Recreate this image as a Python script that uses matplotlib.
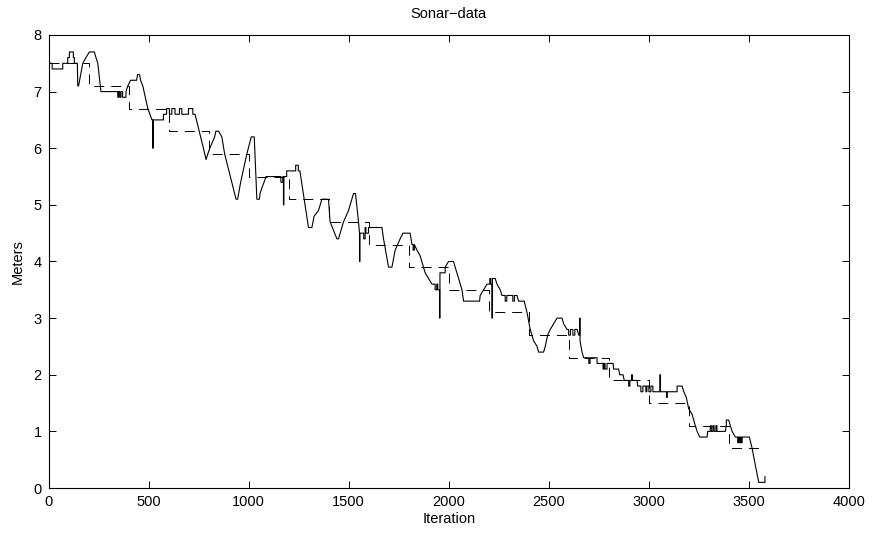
import matplotlib
matplotlib.use("Agg")
import matplotlib.pyplot as plt

# ---- data ----
# solid sonar trace, vertices (iteration, meters), in consecutive pieces
sonar_part1 = [(0, 7.5), (18, 7.5), (18, 7.4), (71, 7.4), (71, 7.5), (96, 7.5), (96, 7.6), (104, 7.6), (104, 7.7),
               (124, 7.7), (124, 7.6), (129, 7.6), (129, 7.5), (144, 7.5), (146, 7.1), (150, 7.1), (171, 7.5),
               (187, 7.6), (204, 7.7), (229, 7.7), (237, 7.6), (246, 7.5), (262, 7.0), (346, 7.0), (346, 6.9),
               (350, 6.9), (350, 7.0), (356, 7.0), (356, 6.9), (362, 6.9), (362, 7.0), (370, 7.0), (370, 6.9),
               (387, 6.9), (387, 7.0), (396, 7.1), (410, 7.2), (440, 7.2), (445, 7.3), (455, 7.3), (460, 7.2),
               (471, 7.1), (496, 6.7), (517, 6.5), (521, 6.5), (521, 6.0), (523, 6.0), (523, 6.5)]
sonar_part2 = [(574, 6.5), (574, 6.6), (590, 6.6), (590, 6.7), (604, 6.7), (604, 6.6), (616, 6.6), (616, 6.7),
               (632, 6.7), (632, 6.6), (654, 6.6), (654, 6.7), (666, 6.7), (666, 6.6), (699, 6.6), (699, 6.7),
               (721, 6.7), (721, 6.6), (732, 6.6), (774, 6.0), (787, 5.8), (796, 5.9), (806, 6.0), (830, 6.2),
               (836, 6.3), (850, 6.3), (866, 6.2), (880, 5.9), (937, 5.1), (945, 5.1), (960, 5.4), (991, 5.9),
               (1013, 6.2), (1028, 6.2), (1041, 5.1), (1054, 5.1), (1057, 5.2), (1066, 5.3), (1077, 5.4),
               (1087, 5.5), (1161, 5.5), (1161, 5.4), (1171, 5.4), (1171, 5.5), (1174, 5.5), (1174, 5.0),
               (1176, 5.0), (1176, 5.5), (1190, 5.5), (1190, 5.6), (1235, 5.6), (1235, 5.7), (1248, 5.7),
               (1248, 5.6), (1256, 5.6)]
sonar_part3 = [(1299, 4.6), (1316, 4.6), (1327, 4.8), (1349, 4.9), (1366, 5.1), (1399, 5.1), (1407, 4.7),
               (1441, 4.4), (1449, 4.4), (1474, 4.7), (1499, 4.9), (1524, 5.2), (1534, 5.2), (1549, 4.7),
               (1554, 4.5), (1554, 4.0), (1556, 4.0), (1556, 4.5), (1575, 4.5), (1575, 4.4), (1582, 4.4),
               (1582, 4.6), (1586, 4.6), (1586, 4.5), (1599, 4.5), (1599, 4.6), (1666, 4.6), (1674, 4.4),
               (1699, 3.9), (1716, 3.9), (1732, 4.2), (1757, 4.4), (1771, 4.5), (1807, 4.5), (1816, 4.3),
               (1822, 4.3), (1822, 4.2), (1828, 4.2), (1828, 4.3), (1841, 4.2), (1857, 4.1), (1874, 3.9),
               (1882, 3.8), (1899, 3.7), (1916, 3.6), (1932, 3.6), (1932, 3.5), (1940, 3.5), (1940, 3.6),
               (1945, 3.6), (1945, 3.5), (1954, 3.5), (1954, 3.0), (1956, 3.0), (1956, 3.8)]
sonar_part4 = [(1982, 3.8), (1982, 3.9), (1999, 4.0), (2024, 4.0), (2032, 3.9), (2049, 3.7), (2066, 3.5),
               (2074, 3.3), (2154, 3.3), (2157, 3.4), (2174, 3.5), (2191, 3.6), (2205, 3.6), (2205, 3.7),
               (2210, 3.7), (2210, 3.6), (2216, 3.6), (2216, 3.0), (2218, 3.0), (2218, 3.7), (2232, 3.7),
               (2241, 3.6), (2257, 3.5), (2266, 3.4), (2282, 3.4), (2282, 3.3), (2290, 3.3), (2290, 3.4),
               (2320, 3.4), (2320, 3.3), (2328, 3.3), (2328, 3.4), (2341, 3.4), (2349, 3.3), (2377, 3.3),
               (2391, 3.1), (2407, 2.8), (2424, 2.6), (2441, 2.5), (2449, 2.4), (2474, 2.4), (2482, 2.5),
               (2494, 2.7), (2507, 2.8), (2524, 2.9), (2541, 3.0), (2566, 3.0), (2574, 2.9), (2591, 2.8),
               (2599, 2.8), (2599, 2.7), (2608, 2.7), (2608, 2.8), (2620, 2.8), (2620, 2.7), (2630, 2.7),
               (2630, 2.8), (2641, 2.8), (2650, 2.7), (2654, 2.7), (2654, 3.0), (2656, 3.0), (2656, 2.6),
               (2666, 2.4), (2674, 2.3)]
sonar_part5 = [(2700, 2.3), (2700, 2.2), (2706, 2.2), (2706, 2.3), (2741, 2.3), (2741, 2.2), (2771, 2.2),
               (2771, 2.1), (2776, 2.1), (2776, 2.2), (2781, 2.2), (2781, 2.1), (2791, 2.1), (2791, 2.2),
               (2821, 2.2), (2824, 2.1), (2849, 2.1), (2854, 2.0), (2871, 2.0), (2877, 1.9), (2899, 1.9),
               (2899, 1.8), (2905, 1.8), (2905, 1.9), (2914, 1.9), (2914, 2.0), (2917, 2.0), (2917, 1.9),
               (2941, 1.9), (2944, 1.8), (2960, 1.8), (2960, 1.7), (2970, 1.7), (2970, 1.8), (2985, 1.8),
               (2985, 1.7), (2990, 1.7), (2990, 1.8), (3000, 1.8), (3000, 1.7), (3010, 1.7), (3010, 1.8),
               (3020, 1.8), (3020, 1.7), (3055, 1.7), (3055, 2.0), (3058, 2.0), (3058, 1.7), (3088, 1.7),
               (3088, 1.6), (3092, 1.6), (3092, 1.7), (3141, 1.7)]
sonar_part6 = [(3141, 1.8), (3166, 1.8), (3174, 1.7), (3187, 1.6), (3199, 1.4), (3216, 1.3), (3232, 1.1),
               (3241, 1.0), (3254, 0.9), (3291, 0.9), (3294, 1.0), (3307, 1.0), (3307, 1.1), (3312, 1.1),
               (3312, 1.0), (3320, 1.0), (3320, 1.1), (3326, 1.1), (3326, 1.0), (3335, 1.0), (3335, 1.1),
               (3340, 1.1), (3340, 1.0), (3382, 1.0), (3387, 1.1), (3387, 1.2), (3399, 1.2), (3407, 1.1),
               (3416, 1.0), (3432, 0.9), (3444, 0.9), (3444, 0.8), (3448, 0.8), (3448, 0.9), (3452, 0.9),
               (3452, 0.8), (3456, 0.8), (3456, 0.9), (3461, 0.9), (3461, 0.8), (3466, 0.8), (3466, 0.9),
               (3502, 0.9), (3516, 0.7), (3532, 0.4), (3549, 0.1), (3580, 0.1), (3580, 0.2)]

# dashed reference staircase
ref_x = [0, 200, 400, 600, 800, 1000, 1200, 1400, 1600, 1800, 2000, 2200, 2400, 2600, 2800, 3000, 3200, 3400, 3580]
ref_y = [7.5, 7.1, 6.7, 6.3, 5.9, 5.5, 5.1, 4.7, 4.3, 3.9, 3.5, 3.1, 2.7, 2.3, 1.9, 1.5, 1.1, 0.7, 0.7]

x_ticks = [0, 500, 1000, 1500, 2000, 2500, 3000, 3500, 4000]
y_ticks = [0, 1, 2, 3, 4, 5, 6, 7, 8]

sonar_pts = sonar_part1 + sonar_part2 + sonar_part3 + sonar_part4 + sonar_part5 + sonar_part6
sonar_x = [p[0] for p in sonar_pts]
sonar_y = [p[1] for p in sonar_pts]

plt.rcParams['font.family'] = ['Liberation Sans', 'DejaVu Sans']
plt.rcParams['lines.scale_dashes'] = False

fig = plt.figure(figsize=(8.73, 5.33), dpi=100)
ax = fig.add_axes([0.0556, 0.0844, 0.9169, 0.8500])

ax.plot(ref_x, ref_y, color='black', lw=0.7, linestyle=(0, (7.2, 5.0)), drawstyle='steps-post')
ax.plot(sonar_x, sonar_y, color='black', lw=0.8)

ax.set_xlim(0, 4000)
ax.set_ylim(0, 8)
ax.set_xticks(x_ticks)
ax.set_yticks(y_ticks)
ax.tick_params(direction='in', top=True, right=True, length=5, width=0.7,
               labelsize=10.5, pad=5)
for s in ax.spines.values():
    s.set_linewidth(0.8)

ax.set_title('Sonar\u2212data', fontsize=10.5, pad=12)
ax.set_xlabel('Iteration', fontsize=10.5, labelpad=2)
ax.set_ylabel('Meters', fontsize=10.5, labelpad=6)

fig.savefig('out.png', dpi=100)
